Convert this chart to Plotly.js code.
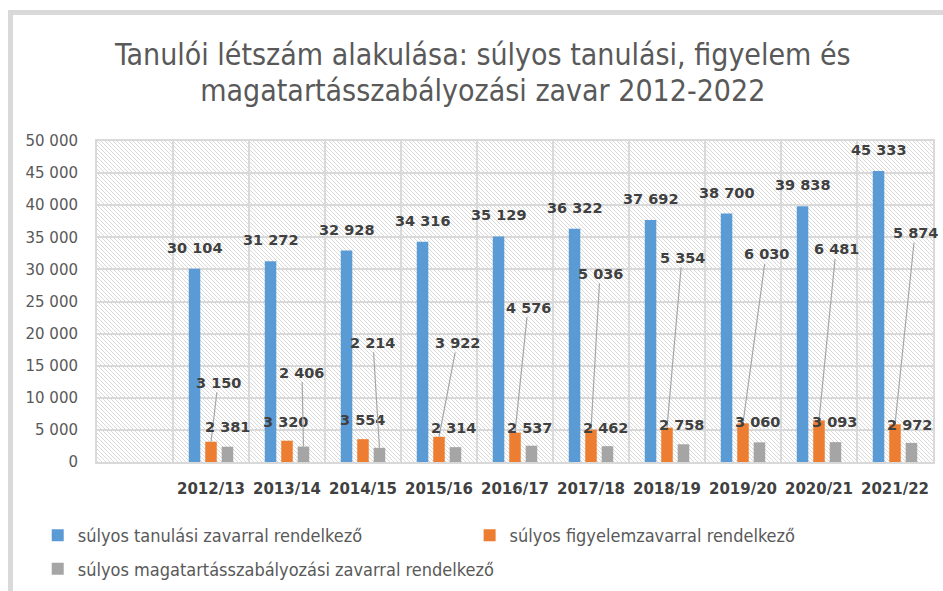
<!DOCTYPE html>
<html><head><meta charset="utf-8">
<script src="https://cdn.plot.ly/plotly-3.0.1.min.js"></script>
<style>
html,body{margin:0;padding:0;background:#fff;}
#chart{position:absolute;left:0;top:0;width:943px;height:591px;}
#frame{position:absolute;left:8px;top:10px;width:1000px;height:1000px;border-left:5px solid #d9d9d9;border-top:5px solid #d9d9d9;pointer-events:none;z-index:5;}
</style></head><body>
<div id="chart"></div><div id="frame"></div>
<script>
// ---- data ----
const categories = ["2012/13","2013/14","2014/15","2015/16","2016/17","2017/18","2018/19","2019/20","2020/21","2021/22"];
const seriesNames = ["súlyos tanulási zavarral rendelkező","súlyos figyelemzavarral rendelkező","súlyos magatartásszabályozási zavarral rendelkező"];
const tanulasi   = [30104,31272,32928,34316,35129,36322,37692,38700,39838,45333];
const figyelem   = [3150,3320,3554,3922,4576,5036,5354,6030,6481,5874];
const magatartas = [2381,2406,2214,2314,2537,2462,2758,3060,3093,2972];

// ---- label placement (pixel offsets of label centre from bar top) ----
const figLabelOffset = [[7,-59],[-2,-19],[-1,-19],[18,-94],[13,-125],[9,-156],[15,-170],[23,-169],[17,-171],[20,-191]];
const magLabelOffset = [[0,-20],[-1.5,-74],[-6.5,-105],[-1.5,-19],[-1.5,-18],[-1.5,-18],[-1.5,-19],[-1.5,-20],[-0.5,-20],[-1.5,-18]];

const colors = ["#5b9bd5","#ed7d31","#a5a5a5"];
const legendRefs = ["legend","legend2","legend"];
const legendGroups = ["a","b","c"];
const bargap = 0.35, bargroupgap = 0.3;
const step = (1 - bargap) / 3;

function fmt(v){ return String(v).replace(/\B(?=(\d{3})+(?!\d))/g, " "); }

const traces = [tanulasi, figyelem, magatartas].map((vals, k) => ({
  type: "bar", name: seriesNames[k], x: categories, y: vals,
  marker: {color: colors[k]}, hoverinfo: "skip",
  legend: legendRefs[k], legendgroup: legendGroups[k]
}));

const labelFont = {family: "DejaVu Sans", size: 14.5, weight: "bold", color: "#404040"};
const annotations = [];
categories.forEach((c, i) => {
  annotations.push({x: i - step, y: tanulasi[i], xref: "x", yref: "y", text: fmt(tanulasi[i]),
    showarrow: false, yshift: 21, font: labelFont});
  [[figyelem, figLabelOffset, 0], [magatartas, magLabelOffset, step]].forEach(([vals, offs, dx]) => {
    const o = offs[i];
    if (Math.abs(o[1]) > 30) {
      annotations.push({x: i + dx, y: vals[i], xref: "x", yref: "y", text: fmt(vals[i]),
        showarrow: true, arrowhead: 0, arrowwidth: 1.2, arrowcolor: "#a6a6a6", standoff: 0,
        ax: o[0], ay: o[1], font: labelFont});
    } else {
      annotations.push({x: i + dx, y: vals[i], xref: "x", yref: "y", text: fmt(vals[i]),
        showarrow: false, xshift: o[0], yshift: -o[1], font: labelFont});
    }
  });
});

const W = 836, H = 321;
const svg = `<svg xmlns="http://www.w3.org/2000/svg" width="${W}" height="${H}"><defs><pattern id="p" width="4" height="4" patternUnits="userSpaceOnUse"><path d="M-1,-1 L5,5 M-1,3 L1,5 M3,-1 L5,1" stroke="#d9d9d9" stroke-width="1"/></pattern></defs><rect width="${W}" height="${H}" fill="#ffffff"/><rect width="${W}" height="${H}" fill="url(#p)"/></svg>`;
const svgUri = "data:image/svg+xml;charset=utf-8," + encodeURIComponent(svg);

const legendFont = {family: "DejaVu Sans Condensed, DejaVu Sans", size: 18, color: "#595959"};

const layout = {
  width: 943, height: 591,
  margin: {l: 97, r: 10, t: 141, b: 129, autoexpand: false},
  paper_bgcolor: "#ffffff", plot_bgcolor: "rgba(0,0,0,0)",
  separators: ", ",
  barmode: "group", bargap: bargap, bargroupgap: bargroupgap,
  title: {
    text: '<span style="font-size:30px">Tanulói létszám alakulása: súlyos tanulási, figyelem és</span><br><span style="font-size:30px">magatartásszabályozási zavar 2012-2022</span>',
    font: {family: "DejaVu Sans Condensed, DejaVu Sans", size: 28, color: "#595959"},
    x: 0.512, xanchor: "center", xref: "container", y: 0.89, yanchor: "top", yref: "container",
    automargin: false
  },
  xaxis: {
    type: "category", range: [-1.5, 9.5], tickson: "boundaries", ticks: "", tickangle: 0,
    showgrid: true, gridcolor: "#d9d9d9", gridwidth: 2,
    showline: true, linecolor: "#d9d9d9", linewidth: 2, mirror: true,
    tickfont: {family: "DejaVu Sans", size: 15, weight: "bold", color: "#404040"},
    ticklabelstandoff: 12, fixedrange: true, automargin: false
  },
  yaxis: {
    range: [0, 50000], dtick: 5000, tick0: 0, tickformat: ",d", ticks: "",
    showgrid: true, gridcolor: "#d9d9d9", gridwidth: 2, zeroline: false,
    showline: true, linecolor: "#d9d9d9", linewidth: 2, mirror: true,
    tickfont: {family: "DejaVu Sans", size: 15, color: "#595959"},
    ticklabelstandoff: 14, fixedrange: true, automargin: false
  },
  legend: {
    orientation: "v", xref: "container", yref: "container", x: 0.04, y: 0.125,
    xanchor: "left", yanchor: "top", tracegroupgap: 7,
    font: legendFont, traceorder: "grouped", bgcolor: "rgba(0,0,0,0)"
  },
  legend2: {
    orientation: "v", xref: "container", yref: "container", x: 0.498, y: 0.125,
    xanchor: "left", yanchor: "top",
    font: legendFont, bgcolor: "rgba(0,0,0,0)"
  },
  images: [{source: svgUri, xref: "paper", yref: "paper", x: 0, y: 1, sizex: 1, sizey: 1,
    xanchor: "left", yanchor: "top", sizing: "stretch", layer: "below"}],
  annotations: annotations,
  showlegend: true
};

Plotly.newPlot("chart", traces, layout, {displayModeBar: false, staticPlot: true});
</script></body></html>
